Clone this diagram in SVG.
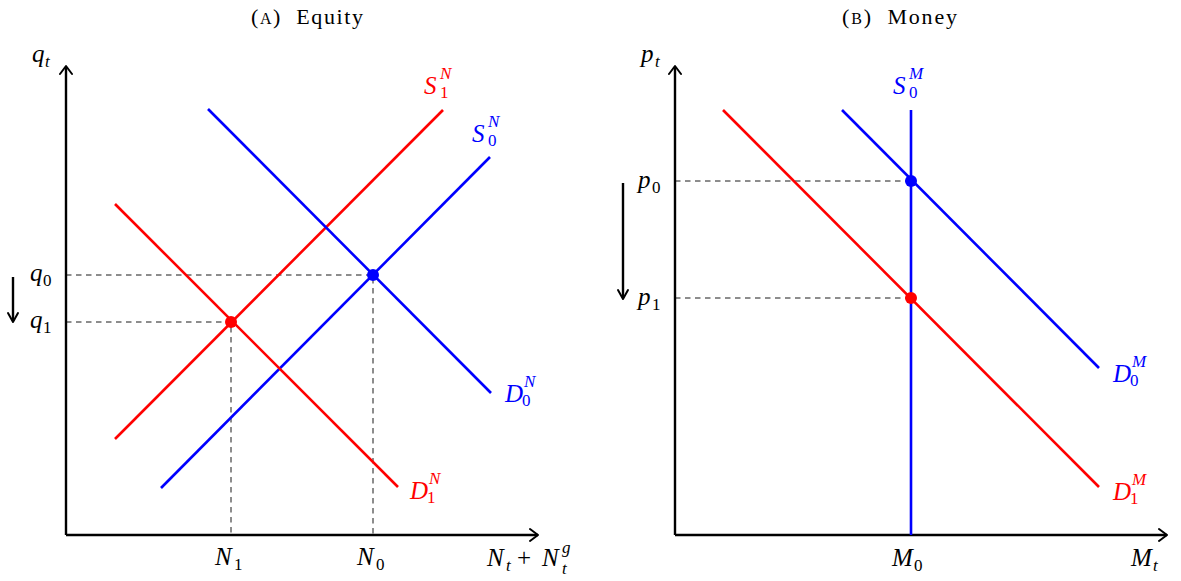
<svg xmlns="http://www.w3.org/2000/svg" width="1181" height="581" viewBox="0 0 1181 581" font-family="'Liberation Serif','DejaVu Serif',serif">
<defs>
<style>
.ax{stroke:#000;stroke-width:2.4;fill:none}
.hd{stroke:#000;stroke-width:2;fill:none;stroke-linecap:round;stroke-linejoin:round}
.dash{stroke:#000;stroke-width:0.9;stroke-dasharray:5.5,4.5;fill:none}
.blue{stroke:#0000ff;stroke-width:2.6;fill:none}
.red{stroke:#ff0000;stroke-width:2.6;fill:none}
.m{font-family:'Liberation Serif','DejaVu Serif',serif;font-size:25px;font-style:italic}
.s{font-family:'Liberation Serif','DejaVu Serif',serif;font-size:17px;font-style:normal}
.si{font-family:'Liberation Serif','DejaVu Serif',serif;font-size:17px;font-style:italic}
.r{font-family:'Liberation Serif','DejaVu Serif',serif;font-size:25px;font-style:normal}
.ti{font-family:'Liberation Serif','DejaVu Serif',serif;font-size:22px}
.sc{font-size:16px}
.tb{fill:#0000ff}
.tr{fill:#ff0000}
</style>
</defs>
<g id="title-a"><text class="ti" x="251" y="24" textLength="112" lengthAdjust="spacing" xml:space="preserve">(<tspan class="sc">A</tspan>)  Equity</text></g>
<g id="title-b"><text class="ti" x="842" y="24" textLength="115" lengthAdjust="spacing" xml:space="preserve">(<tspan class="sc">B</tspan>)  Money</text></g>

<g id="connectors">
<path class="ax" d="M66,535 V67 M66,535 H538"/>
<path class="hd" d="M60,74 L66,66 L72,74 M530,529 L538,535 L530,541"/>
<path class="ax" d="M675,535 V67 M675,535 H1167"/>
<path class="hd" d="M669,74 L675,66 L681,74 M1159,529 L1167,535 L1159,541"/>
<path class="dash" d="M66,275 H373 V535 M66,322 H231 V535"/>
<path class="dash" d="M675,181 H911 M675,298 H911"/>
<path class="ax" d="M13,277 V321"/>
<path class="hd" d="M8,313 L13,322 L18,313"/>
<path class="ax" d="M623,183 V298"/>
<path class="hd" d="M618,290 L623,299 L628,290"/>
<path class="red" d="M115,439 L443,110"/>
<path class="blue" d="M161,488 L490,157"/>
<path class="blue" d="M208,109 L491,393"/>
<path class="red" d="M115,204 L398,487"/>
<path class="blue" d="M911,110 V535"/>
<path class="blue" d="M842,110 L1099,368"/>
<path class="red" d="M723,110 L1099,487"/>
</g>

<g id="dots">
<circle cx="373" cy="275" r="6" fill="#0000ff"/>
<circle cx="231" cy="322" r="6" fill="#ff0000"/>
<circle cx="911" cy="181" r="6" fill="#0000ff"/>
<circle cx="911" cy="298" r="6" fill="#ff0000"/>
</g>

<g id="labels-left">
<text class="m" x="32" y="62">q</text><text class="si" x="45" y="67">t</text>
<text class="m" x="30" y="281">q</text><text class="s" x="43" y="286">0</text>
<text class="m" x="30" y="328">q</text><text class="s" x="43" y="333">1</text>
<text class="m" x="215" y="565">N</text><text class="s" x="234" y="570">1</text>
<text class="m" x="357" y="565">N</text><text class="s" x="376" y="570">0</text>
<text class="m" x="487" y="566">N</text><text class="si" x="506" y="571">t</text>
<text class="r" x="517" y="566">+</text>
<text class="m" x="542" y="566">N</text><text class="si" x="562" y="553">g</text><text class="si" x="562" y="574">t</text>
</g>

<g id="label-S1N"><text class="m tr" x="424" y="94">S</text><text class="si tr" x="440" y="79">N</text><text class="s tr" x="440" y="98">1</text></g>
<g id="label-S0N"><text class="m tb" x="472" y="142">S</text><text class="si tb" x="488" y="127">N</text><text class="s tb" x="488" y="146">0</text></g>
<g id="label-D0N"><text class="m tb" x="505" y="402">D</text><text class="si tb" x="524" y="387">N</text><text class="s tb" x="522" y="406">0</text></g>
<g id="label-D1N"><text class="m tr" x="410" y="499">D</text><text class="si tr" x="429" y="484">N</text><text class="s tr" x="427" y="503">1</text></g>

<g id="labels-right">
<text class="m" x="641" y="62">p</text><text class="si" x="655" y="67">t</text>
<text class="m" x="638" y="188">p</text><text class="s" x="652" y="193">0</text>
<text class="m" x="638" y="305">p</text><text class="s" x="652" y="310">1</text>
<text class="m" x="892" y="566">M</text><text class="s" x="914" y="571">0</text>
<text class="m" x="1131" y="566">M</text><text class="si" x="1153" y="571">t</text>
</g>

<g id="label-S0M"><text class="m tb" x="893" y="94">S</text><text class="si tb" x="909" y="79">M</text><text class="s tb" x="909" y="98">0</text></g>
<g id="label-D0M"><text class="m tb" x="1113" y="382">D</text><text class="si tb" x="1132" y="367">M</text><text class="s tb" x="1130" y="386">0</text></g>
<g id="label-D1M"><text class="m tr" x="1113" y="500">D</text><text class="si tr" x="1132" y="485">M</text><text class="s tr" x="1130" y="504">1</text></g>
</svg>
